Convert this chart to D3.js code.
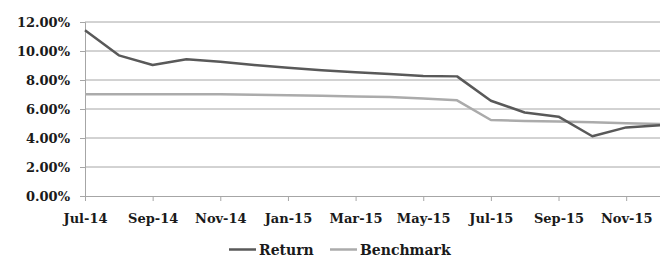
<!DOCTYPE html>
<html><head><meta charset="utf-8">
<script src="https://cdn.jsdelivr.net/npm/d3@7"></script>
<style>
body{margin:0;background:#fff;}
svg{display:block;}
</style></head>
<body>
<script>
const months = ["Jul-14","Aug-14","Sep-14","Oct-14","Nov-14","Dec-14","Jan-15","Feb-15","Mar-15","Apr-15","May-15","Jun-15","Jul-15","Aug-15","Sep-15","Oct-15","Nov-15","Dec-15"];
const returnValues = [11.43,9.70,9.03,9.43,9.26,9.03,8.85,8.67,8.53,8.41,8.28,8.25,6.57,5.76,5.47,4.12,4.73,4.88];
const benchmarkValues = [7.02,7.02,7.02,7.02,7.02,6.99,6.95,6.92,6.87,6.82,6.72,6.60,5.24,5.18,5.13,5.08,5.02,4.96];
const yTicks = [0,2,4,6,8,10,12];
const xTickLabels = ["Jul-14","Sep-14","Nov-14","Jan-15","Mar-15","May-15","Jul-15","Sep-15","Nov-15"];
const seriesNames = ["Return","Benchmark"];
const seriesColors = ["#595959","#ababab"];
const FONT = "DejaVu Serif";

const W=660,H=256;
const svg=d3.select("body").append("svg").attr("width",W).attr("height",H);
const x=d3.scalePoint().domain(months).range([85,660]);
const y=d3.scaleLinear().domain([0,12]).range([196,22]);

svg.append("g").selectAll("line").data(yTicks.filter(d=>d>0)).join("line")
  .attr("x1",85).attr("x2",660).attr("y1",d=>y(d)).attr("y2",d=>y(d))
  .attr("stroke","#a6a6a6").attr("stroke-width",1);

const yAxis=d3.axisLeft(y).tickValues(yTicks).tickSize(5).tickPadding(10).tickFormat(d=>d3.format(".2f")(d)+"%");
const gy=svg.append("g").attr("transform","translate(85,0)").call(yAxis).attr("font-family",FONT).attr("font-size",13).attr("font-weight","bold");
gy.select(".domain").attr("stroke","#a6a6a6");
gy.selectAll(".tick line").attr("stroke","#a6a6a6");
gy.selectAll("text").attr("fill","#1a1a1a");

const xAxis=d3.axisBottom(x).tickValues(xTickLabels).tickSize(5).tickPadding(13);
const gx=svg.append("g").attr("transform","translate(0,196)").call(xAxis).attr("font-family",FONT).attr("font-size",13).attr("font-weight","bold");
gx.select(".domain").attr("stroke","#a6a6a6");
gx.selectAll(".tick line").attr("stroke","#a6a6a6");
gx.selectAll("text").attr("fill","#1a1a1a");

const line=d3.line().x((d,i)=>x(months[i])).y(d=>y(d));
[benchmarkValues,returnValues].forEach((vals,j)=>{
  const k = j===0?1:0;
  svg.append("path").datum(vals).attr("d",line).attr("fill","none")
    .attr("stroke",seriesColors[k]).attr("stroke-width",2.5).attr("stroke-linejoin","round");
});

const legendX=[229,330];
seriesNames.forEach((n,i)=>{
  const g=svg.append("g").attr("transform",`translate(${legendX[i]},249.5)`);
  g.append("line").attr("x1",0).attr("x2",27).attr("stroke",seriesColors[i]).attr("stroke-width",2.5);
  g.append("text").attr("x",30).attr("y",5).text(n)
    .attr("font-family",FONT).attr("font-size",14).attr("font-weight","bold").attr("fill","#1a1a1a");
});
</script>
</body></html>
